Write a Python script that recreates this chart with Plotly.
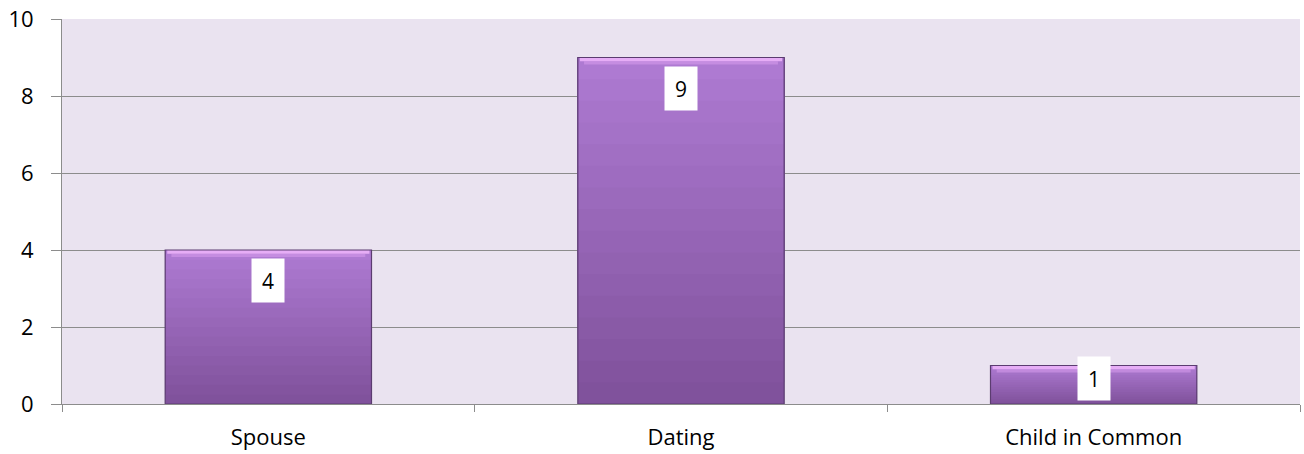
import plotly.graph_objects as go

categories = ["Spouse", "Dating", "Child in Common"]
values = [4, 9, 1]
y_ticks = [0, 2, 4, 6, 8, 10]

FONT = "Open Sans, Liberation Sans"
fig = go.Figure()

# vertical gradient approximation: each slice extends to the bar top, later ones cover
n_slices = 16
dark = (128, 82, 156)
light = (174, 122, 210)
for k in range(n_slices):
    t = k / (n_slices - 1)
    c = tuple(int(dark[i] + (light[i] - dark[i]) * t) for i in range(3))
    fig.add_trace(go.Bar(
        x=categories,
        y=[v * (n_slices - k) / n_slices for v in values],
        base=[v * k / n_slices for v in values],
        marker=dict(color="rgb(%d,%d,%d)" % c, line=dict(width=0)),
        width=0.5, hoverinfo="skip", showlegend=False,
    ))

# bevel highlight at top
fig.add_trace(go.Bar(
    x=categories, y=[0.1] * len(values), base=[v - 0.1 for v in values],
    marker=dict(color="rgba(236,178,250,0.9)", line=dict(width=0)),
    width=0.49, hoverinfo="skip", showlegend=False,
))
fig.add_trace(go.Bar(
    x=categories, y=[0.08] * len(values), base=[v - 0.18 for v in values],
    marker=dict(color="rgba(220,160,240,0.5)", line=dict(width=0)),
    width=0.47, hoverinfo="skip", showlegend=False,
))
# outline
fig.add_trace(go.Bar(
    x=categories, y=values,
    marker=dict(color="rgba(0,0,0,0)", line=dict(color="#5B3C70", width=1.2)),
    width=0.5, hoverinfo="skip", showlegend=False,
))

for cat, v in zip(categories, values):
    shift = -8 if v >= 2 else 10
    fig.add_annotation(x=cat, y=v, yanchor="top", yshift=shift, text=str(v),
                       showarrow=False, bgcolor="white", width=30, height=41,
                       font=dict(size=21, color="black", family=FONT))

fig.update_layout(
    width=1304, height=454,
    margin=dict(l=62, r=4, t=19, b=50),
    barmode="overlay",
    paper_bgcolor="white",
    plot_bgcolor="#EAE3F0",
    font=dict(family=FONT, size=22, color="black"),
)
fig.update_xaxes(
    automargin=False,
    showline=True, linecolor="#8C8C8C", linewidth=1,
    ticks="outside", ticklen=7, tickcolor="#8C8C8C", tickson="boundaries",
    showgrid=False, ticklabelstandoff=14,
    tickfont=dict(size=22),
)
fig.update_yaxes(
    automargin=False,
    range=[0, 10], tickvals=y_ticks,
    showline=True, linecolor="#8C8C8C", linewidth=1,
    ticks="outside", ticklen=10, tickcolor="#8C8C8C",
    showgrid=True, gridcolor="#8C8C8C", gridwidth=1,
    zeroline=False, ticklabelstandoff=13,
    tickfont=dict(size=22),
)

fig.write_html("out.html", config={"displayModeBar": False},
               post_script="document.body.style.margin='0';document.body.style.overflow='hidden';")
